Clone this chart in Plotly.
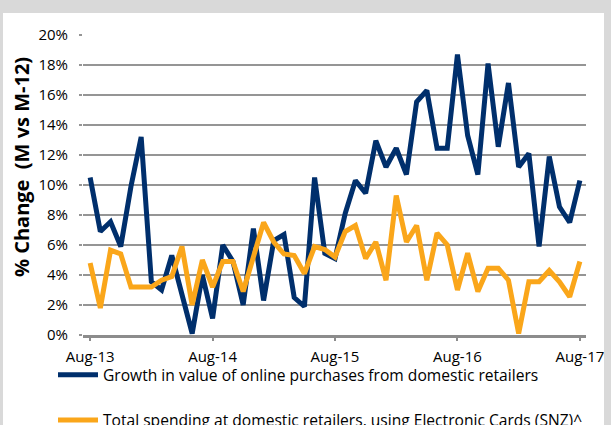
import pandas as pd
import plotly.graph_objects as go

months = [d.strftime("%b-%y") for d in pd.date_range("2013-08-01", "2017-08-01", freq="MS")]

online_growth = [10.5, 6.9, 7.55, 5.9, 9.9, 13.2, 3.55, 3.0, 5.3, 2.8,
                 0.1, 4.0, 1.1, 6.0, 4.9, 2.0, 7.1, 2.3, 6.3, 6.7,
                 2.5, 1.9, 10.5, 5.45, 5.1, 8.1, 10.3, 9.45, 12.95, 11.2,
                 12.45, 10.7, 15.55, 16.3, 12.45, 12.45, 18.7, 13.3, 10.7, 18.1,
                 12.55, 16.8, 11.2, 12.1, 5.9, 11.9, 8.55, 7.5, 10.3]

card_spending = [4.8, 1.8, 5.65, 5.4, 3.2, 3.2, 3.2, 3.65, 3.9, 5.9,
                 2.0, 5.0, 3.2, 4.9, 4.9, 2.9, 5.2, 7.5, 6.2, 5.4,
                 5.3, 4.1, 5.9, 5.7, 5.2, 6.9, 7.3, 5.1, 6.2, 3.65,
                 9.3, 6.2, 7.3, 3.65, 6.8, 6.0, 3.0, 5.45, 2.9, 4.45,
                 4.45, 3.65, 0.1, 3.55, 3.55, 4.3, 3.55, 2.55, 4.9]

tick_labels = ["Aug-13", "Aug-14", "Aug-15", "Aug-16", "Aug-17"]
y_ticks = list(range(0, 21, 2))

series_names = ["Growth in value of online purchases from domestic retailers",
                "Total spending at domestic retailers, using Electronic Cards (SNZ)^"]
y_title = "% Change  (M vs M-12)"

BLUE = "#002F6C"
ORANGE = "#FAA61A"
FONT = "Open Sans"

fig = go.Figure()
fig.add_trace(go.Scatter(x=months, y=online_growth, mode="lines", name=series_names[0],
                         legendgroup="a",
                         line=dict(color=BLUE, width=5, shape="linear")))
fig.add_trace(go.Scatter(x=months, y=card_spending, mode="lines", name=series_names[1],
                         legendgroup="b",
                         line=dict(color=ORANGE, width=5, shape="linear")))

L, R, T, B = 83, 25, 35, 90
W, H = 611, 425
pw, ph = W - L - R, H - T - B

fig.add_shape(type="rect", xref="paper", yref="paper", layer="below",
              x0=(3 - L) / pw, x1=(604 - L) / pw,
              y0=-(B + 5) / ph, y1=1 + (T - 13) / ph,
              fillcolor="white", line=dict(width=0))

fig.add_annotation(text=y_title, xref="paper", yref="paper",
                   x=(22 - L) / pw, y=(T + ph - 167) / ph,
                   xanchor="center", yanchor="middle", textangle=-90, showarrow=False,
                   font=dict(family=FONT, size=20, color="#000000", weight="bold"))

fig.update_layout(
    width=W, height=H,
    margin=dict(l=L, r=R, t=T, b=B, autoexpand=False),
    paper_bgcolor="#D9D9D9",
    plot_bgcolor="white",
    font=dict(family=FONT, size=15, color="#000000"),
    showlegend=True,
    legend=dict(xref="container", yref="container",
                x=53 / W, y=1 - 358 / H, xanchor="left", yanchor="top",
                bgcolor="rgba(0,0,0,0)", tracegroupgap=22,
                font=dict(family=FONT, size=15.6, color="#000000"),
                itemwidth=40),
    xaxis=dict(type="category", range=[-0.7, 48.6], automargin=False,
               tickmode="array", tickvals=tick_labels, ticktext=tick_labels,
               showgrid=False, showline=True, linecolor="#8C8C8C", linewidth=3,
               ticks="outside", ticklen=3, tickwidth=2, tickcolor="#8C8C8C",
               ticklabelstandoff=3,
               tickfont=dict(family=FONT, size=15, color="#000000"),
               zeroline=False),
    yaxis=dict(range=[0, 20], tickmode="array", tickvals=y_ticks, automargin=False,
               ticktext=[f"{v}%" for v in y_ticks],
               showgrid=True, gridcolor="#959595", gridwidth=2,
               ticks="outside", ticklen=3, tickwidth=2, tickcolor="#959595",
               ticklabelstandoff=8,
               tickfont=dict(family=FONT, size=15, color="#000000"),
               zeroline=False, showline=False),
)

fig.write_html("out.html", config={"displayModeBar": False},
               post_script="document.body.style.margin='0';document.body.style.background='#D9D9D9';")
